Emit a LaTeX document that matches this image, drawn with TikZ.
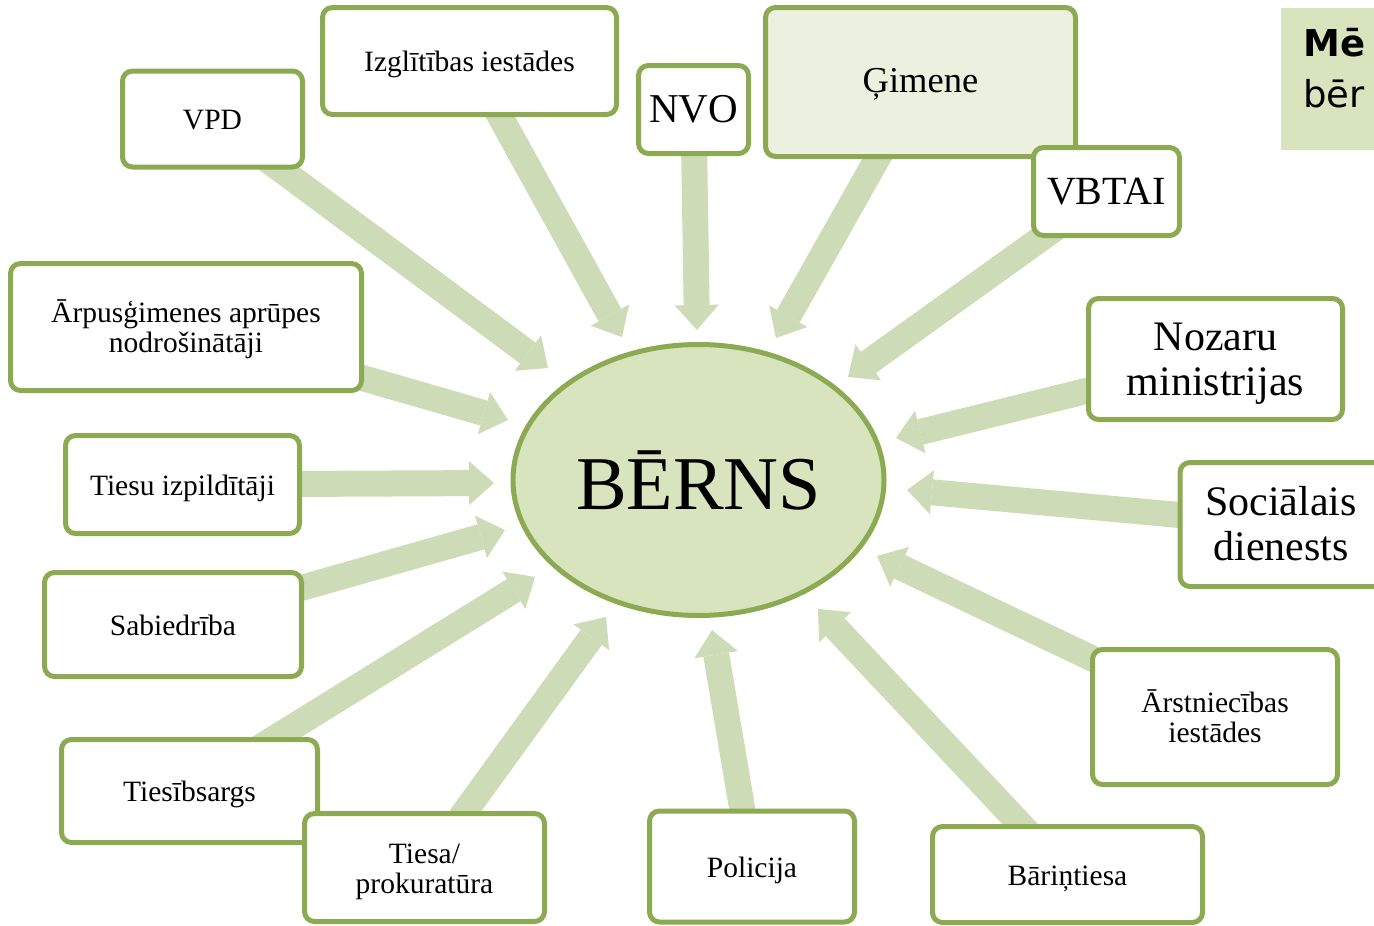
\documentclass[tikz,border=0pt]{standalone}
\usepackage{fontspec}
\setmainfont{Liberation Serif}
\newfontfamily\dejavu{DejaVu Sans}
\usetikzlibrary{arrows.meta,shapes.geometric}
\pgfdeclarelayer{background}
\pgfsetlayers{background,main}
\definecolor{bordergreen}{RGB}{140,170,82}
\definecolor{arrowgreen}{RGB}{205,219,183}
\definecolor{ellfill}{RGB}{215,228,189}
\definecolor{gimfill}{RGB}{235,241,222}
\begin{document}
\begin{tikzpicture}[x=1pt,y=-1pt,
  box/.style={draw=bordergreen, line width=5pt, rounded corners=10pt, fill=white, align=center, inner sep=0pt},
  small/.style={font=\fontsize{29.5}{30}\selectfont, text height=22pt, text depth=1pt},
  smalltwo/.style={font=\fontsize{29.5}{30}\selectfont, text height=52pt, text depth=1pt},
  big/.style={font=\fontsize{42}{45}\selectfont},
  flow/.style={draw=arrowgreen, line width=26pt, -{Triangle[width=44pt,length=25pt,line width=0pt]}}]
\useasboundingbox (0,0) rectangle (1374,926);

% centre
\node[ellipse, draw=bordergreen, line width=5pt, fill=ellfill, minimum width=371pt, minimum height=271pt, inner sep=0pt,
      font=\fontsize{76}{80}\selectfont] (berns) at (698.5,480) {BĒRNS};

% boxes
\node[box, small, minimum width=180pt, minimum height=96pt] (vpd) at (212.5,119) {VPD};
\node[box, small, minimum width=294pt, minimum height=107pt] (izgl) at (469.5,61) {Izglītības iestādes};
\node[box, font=\fontsize{41}{44}\selectfont, minimum width=110pt, minimum height=88pt] (nvo) at (693.5,109.5) {NVO};
\node[box, fill=gimfill, font=\fontsize{36.5}{40}\selectfont, text height=24pt, text depth=4pt, minimum width=310pt, minimum height=149pt] (gim) at (920.5,82) {Ģimene};
\node[box, font=\fontsize{40}{44}\selectfont, minimum width=146pt, minimum height=88pt] (vbtai) at (1106.5,191.5) {VBTAI};
\node[box, smalltwo, minimum width=351pt, minimum height=127pt] (arpus) at (186,327) {Ārpusģimenes aprūpes\\nodrošinātāji};
\node[box, small, minimum width=234pt, minimum height=98pt] (tiesu) at (182.5,484.5) {Tiesu izpildītāji};
\node[box, small, minimum width=257pt, minimum height=104pt] (sab) at (173,624.5) {Sabiedrība};
\node[box, small, minimum width=256pt, minimum height=103pt] (tsargs) at (189.5,791) {Tiesībsargs};
\node[box, smalltwo, minimum width=240pt, minimum height=108pt] (tiesa) at (424.5,867.5) {Tiesa/\\prokuratūra};
\node[box, small, minimum width=205pt, minimum height=111pt] (pol) at (752,866.5) {Policija};
\node[box, small, minimum width=270pt, minimum height=96pt] (bar) at (1067.5,874.5) {Bāriņtiesa};
\node[box, smalltwo, minimum width=245pt, minimum height=135pt] (arst) at (1215,717) {Ārstniecības\\iestādes};
\node[box, big, text height=75pt, text depth=2.4pt, minimum width=254pt, minimum height=121pt] (noz) at (1215.5,359) {Nozaru\\ministrijas};

\begin{scope}
\clip (0,0) rectangle (1374,926);
\node[box, minimum width=206pt, minimum height=124pt] (soc) at (1283,524.5) {};
\node[big, align=center] (soct) at (1281,524) {Sociālais\\dienests};
\node[fill=ellfill, minimum width=120pt, minimum height=142pt, inner sep=0pt] (mbox) at (1341,79) {};
\node[anchor=base west, inner sep=0pt, font=\dejavu\bfseries\fontsize{37}{40}\selectfont] (m1) at (1303,56) {Mē};
\node[anchor=base west, inner sep=0pt, font=\dejavu\fontsize{37}{40}\selectfont] (m2) at (1303,107) {bēr};
\end{scope}

% arrow tips
\coordinate (t1) at (548,368);
\coordinate (t2) at (622,337);
\coordinate (t3) at (697,330);
\coordinate (t4) at (776,338);
\coordinate (t5) at (848,377);
\coordinate (t6) at (508,420);
\coordinate (t7) at (494,483);
\coordinate (t8) at (505,530);
\coordinate (t9) at (535,577);
\coordinate (t10) at (606,617);
\coordinate (t11) at (712,630);
\coordinate (t12) at (818,609);
\coordinate (t13) at (877,556);
\coordinate (t14) at (907,490);
\coordinate (t15) at (896,438);

\begin{pgfonlayer}{background}
\draw[flow] (vpd.center) -- (t1);
\draw[flow] (izgl.center) -- (t2);
\draw[flow] (nvo.center) -- (t3);
\draw[flow] (gim.center) -- (t4);
\draw[flow] (vbtai.center) -- (t5);
\draw[flow] (arpus.center) -- (t6);
\draw[flow] (tiesu.center) -- (t7);
\draw[flow] (sab.center) -- (t8);
\draw[flow] (tsargs.center) -- (t9);
\draw[flow] (tiesa.center) -- (t10);
\draw[flow] (pol.center) -- (t11);
\draw[flow] (bar.center) -- (t12);
\draw[flow] (arst.center) -- (t13);
\draw[flow] (soc.center) -- (t14);
\draw[flow] (noz.center) -- (t15);
\end{pgfonlayer}
\end{tikzpicture}
\end{document}
